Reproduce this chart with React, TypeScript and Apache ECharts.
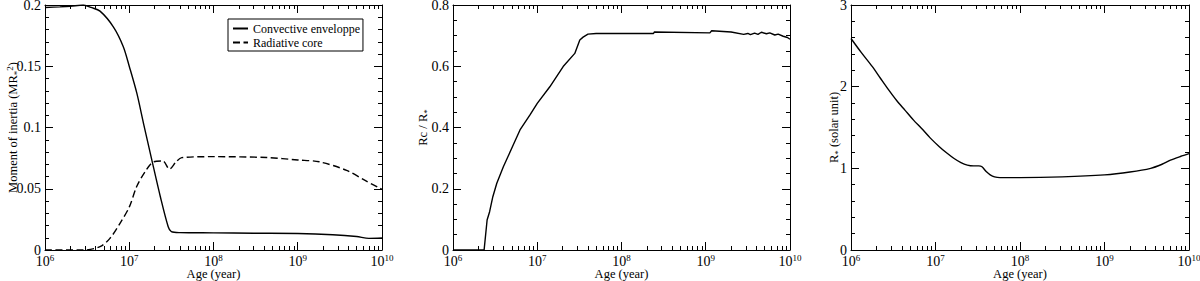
import React, { useEffect, useRef } from "react";
import * as echarts from "echarts";

// Panel 1: moment of inertia
const convAge = [1e6, 1.5e6, 2e6, 2.85e6, 3.5e6, 4.5e6, 6.5e6, 8.5e6, 1e7, 1.23e7, 1.48e7, 1.86e7, 2.34e7, 2.9e7, 3.16e7, 4e7, 1e8, 3e8, 1e9, 2.6e9, 5e9, 7e9, 1e10];
const convVal = [0.198, 0.1985, 0.199, 0.2, 0.198, 0.195, 0.182, 0.166, 0.15, 0.128, 0.103, 0.073, 0.0435, 0.019, 0.015, 0.0142, 0.014, 0.0137, 0.0135, 0.0125, 0.011, 0.0095, 0.0098];
const coreAge = [1e6, 2.85e6, 4.5e6, 5.9e6, 7.8e6, 1e7, 1.23e7, 1.58e7, 1.95e7, 2.5e7, 3.0e7, 3.6e7, 4.2e7, 1e8, 4.3e8, 1e9, 1.8e9, 3.8e9, 6.6e9, 1e10];
const coreVal = [0, 0, 0.0027, 0.0095, 0.022, 0.035, 0.052, 0.065, 0.072, 0.0727, 0.066, 0.072, 0.0754, 0.0762, 0.0755, 0.0735, 0.072, 0.065, 0.056, 0.0495];

// Panel 2: Rc / R*
const rcAge = [1e6, 2.34e6, 2.54e6, 2.72e6, 2.97e6, 3.31e6, 3.96e6, 4.98e6, 6.24e6, 8.2e6, 1e7, 1.41e7, 2.03e7, 2.79e7, 3.2e7, 3.5e7, 4e7, 5e7, 1e8, 2.4e8, 2.45e8, 1.12e9, 1.175e9, 2.0e9, 2.82e9, 3.16e9, 3.39e9, 3.8e9, 4.17e9, 4.57e9, 5.25e9, 5.75e9, 6.6e9, 7.24e9, 8.3e9, 9.33e9, 1e10];
const rcVal = [0, 0, 0.098, 0.125, 0.174, 0.218, 0.272, 0.332, 0.392, 0.441, 0.479, 0.533, 0.599, 0.642, 0.686, 0.695, 0.705, 0.707, 0.707, 0.707, 0.712, 0.709, 0.716, 0.712, 0.704, 0.707, 0.703, 0.708, 0.704, 0.711, 0.706, 0.709, 0.702, 0.705, 0.698, 0.694, 0.688];

// Panel 3: stellar radius
const radAge = [1e6, 1.32e6, 1.79e6, 2.24e6, 2.79e6, 3.47e6, 4.37e6, 5.5e6, 6.81e6, 8.7e6, 1.11e7, 1.35e7, 1.66e7, 2.0e7, 2.38e7, 2.82e7, 3.25e7, 3.55e7, 3.98e7, 4.44e7, 5.0e7, 5.8e7, 1e8, 3.16e8, 1e9, 2e9, 3.52e9, 4.8e9, 6.03e9, 7.9e9, 1e10];
const radVal = [2.59, 2.42, 2.245, 2.1, 1.96, 1.83, 1.71, 1.59, 1.49, 1.37, 1.265, 1.19, 1.12, 1.07, 1.04, 1.03, 1.03, 1.02, 0.96, 0.92, 0.895, 0.886, 0.886, 0.895, 0.92, 0.955, 1.0, 1.05, 1.1, 1.145, 1.18];

const seriesNames = ["Convective enveloppe", "Radiative core"];
const xAxisName = "Age (year)";
const yAxisNames = ["Moment of inertia (MR{sub|*}{sup|2})", "Rc / R{sub|*}", "R{sub|*} (solar unit)"];
const yRanges = [
  { min: 0, max: 0.2, interval: 0.05, minor: 5 },
  { min: 0, max: 0.8, interval: 0.2, minor: 4 },
  { min: 0, max: 3, interval: 1, minor: 5 },
];

const FONT = "Liberation Serif";
const minorTickValues: number[] = [];
for (let d = 6; d < 10; d++) for (let k = 2; k <= 9; k++) minorTickValues.push(k * Math.pow(10, d));

const zip = (a: number[], b: number[]) => a.map((x, i) => [x, b[i]]);

const grids = [
  { left: 45, width: 337, top: 5, height: 245 },
  { left: 453, width: 337, top: 5, height: 245 },
  { left: 851, width: 338, top: 5, height: 245 },
];
const yNameGaps = [24, 22, 9];

export default function App() {
  const ref = useRef<HTMLDivElement>(null);
  useEffect(() => {
    document.body.style.margin = "0";
    const chart = echarts.init(ref.current!, null, { renderer: "svg" });
    const black = "#000";
    const xAxes: any[] = [];
    const yAxes: any[] = [];
    grids.forEach((_, g) => {
      const base = { type: "log", logBase: 10, min: 1e6, max: 1e10, gridIndex: g, splitLine: { show: false } };
      xAxes.push({
        ...base,
        position: "bottom",
        axisLine: { show: true, lineStyle: { color: black, width: 1 } },
        axisTick: { show: true, inside: true, length: 8, lineStyle: { color: black } },
        axisLabel: {
          margin: 3,
          color: black,
          formatter: (v: number) => `{b|10}{s|${Math.round(Math.log10(v))}}`,
          rich: {
            b: { fontFamily: FONT, fontSize: 14, color: black, lineHeight: 16 },
            s: { fontFamily: FONT, fontSize: 9, color: black, lineHeight: 10, verticalAlign: "top" },
          },
        },
        name: xAxisName,
        nameLocation: "middle",
        nameGap: 17,
        nameMoveOverlap: false,
        nameTextStyle: { fontFamily: FONT, fontSize: 12.5, color: black },
      });
      xAxes.push({
        ...base,
        position: "bottom",
        axisLine: { show: false },
        axisTick: { show: true, inside: true, length: 4, lineStyle: { color: black }, customValues: minorTickValues },
        axisLabel: { show: false },
      });
      xAxes.push({
        ...base,
        position: "top",
        axisLine: { show: true, lineStyle: { color: black, width: 1 } },
        axisTick: { show: true, inside: true, length: 8, lineStyle: { color: black } },
        axisLabel: { show: false },
      });
      xAxes.push({
        ...base,
        position: "top",
        axisLine: { show: false },
        axisTick: { show: true, inside: true, length: 4, lineStyle: { color: black }, customValues: minorTickValues },
        axisLabel: { show: false },
      });
      const r = yRanges[g];
      const ybase = {
        type: "value",
        gridIndex: g,
        min: r.min,
        max: r.max,
        interval: r.interval,
        splitLine: { show: false },
        axisLine: { show: true, lineStyle: { color: black, width: 1 } },
        axisTick: { show: true, inside: true, length: 8, lineStyle: { color: black } },
        minorTick: { show: true, splitNumber: r.minor, length: 4, lineStyle: { color: black } },
      };
      yAxes.push({
        ...ybase,
        position: "left",
        axisLabel: { margin: 4, color: black, fontFamily: FONT, fontSize: 14 },
        name: yAxisNames[g],
        nameLocation: "middle",
        nameGap: yNameGaps[g],
        nameMoveOverlap: false,
        nameTextStyle: {
          fontFamily: FONT,
          fontSize: 12.5,
          color: black,
          lineHeight: 16,
          rich: {
            sub: { fontFamily: FONT, fontSize: 9, color: black, lineHeight: 9, verticalAlign: "bottom" },
            sup: { fontFamily: FONT, fontSize: 9, color: black, lineHeight: 9, verticalAlign: "top" },
          },
        },
      });
      yAxes.push({ ...ybase, position: "right", axisLabel: { show: false } });
    });

    const lineBase = { type: "line", symbol: "none", smooth: 0.3, clip: true };
    const option: any = {
      animation: false,
      backgroundColor: "#fff",
      grid: grids.map((g) => ({ ...g, outerBoundsMode: "none", containLabel: false })),
      xAxis: xAxes,
      yAxis: yAxes,
      legend: {
        left: 228,
        top: 19,
        orient: "vertical",
        data: seriesNames,
        itemWidth: 15,
        itemHeight: 2,
        itemGap: 1,
        padding: [3, 3, 2, 4],
        borderColor: "#000",
        borderWidth: 1,
        borderRadius: 0,
        itemStyle: { opacity: 0 },
        textStyle: { fontFamily: FONT, fontSize: 12, color: black, lineHeight: 13 },
      },
      series: [
        { ...lineBase, name: seriesNames[0], xAxisIndex: 0, yAxisIndex: 0, data: zip(convAge, convVal), lineStyle: { color: black, width: 1.4, type: "solid" }, itemStyle: { color: black } },
        { ...lineBase, name: seriesNames[1], xAxisIndex: 0, yAxisIndex: 0, data: zip(coreAge, coreVal), lineStyle: { color: black, width: 1.4, type: [7, 3.5] }, itemStyle: { color: black } },
        { ...lineBase, smooth: false, xAxisIndex: 4, yAxisIndex: 2, data: zip(rcAge, rcVal), lineStyle: { color: black, width: 1.4 } },
        { ...lineBase, xAxisIndex: 8, yAxisIndex: 4, data: zip(radAge, radVal), lineStyle: { color: black, width: 1.4 } },
      ],
    };
    chart.setOption(option);
    return () => chart.dispose();
  }, []);
  return <div ref={ref} style={{ position: "absolute", left: 0, top: 0, width: 1200, height: 281 }} />;
}
